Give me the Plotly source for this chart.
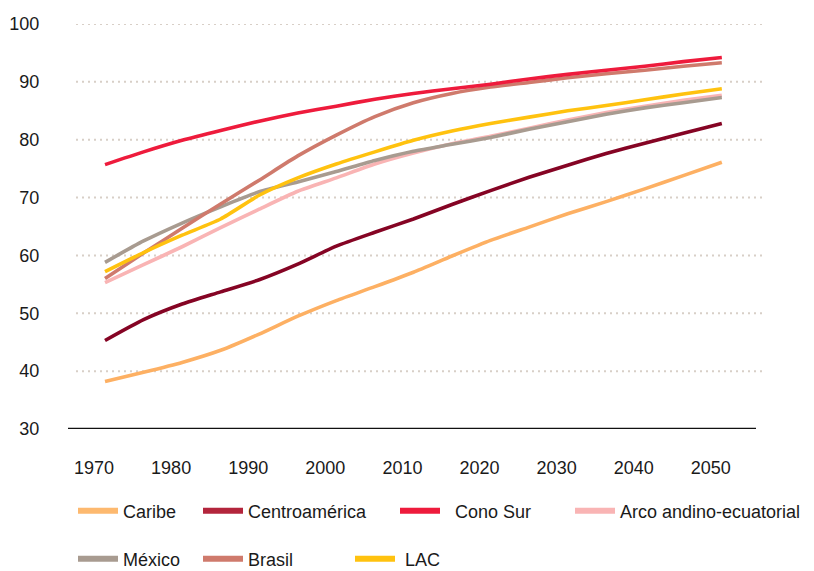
import plotly.graph_objects as go

years = [1970, 1975, 1980, 1985, 1990, 1995, 2000, 2005, 2010, 2015,
         2020, 2025, 2030, 2035, 2040, 2045, 2050]

caribe = [38.2, 39.8, 41.5, 43.6, 46.4, 49.5, 52.2, 54.6, 57.1, 59.9,
          62.6, 64.9, 67.2, 69.3, 71.5, 73.8, 76.1]
centroamerica = [45.3, 48.9, 51.6, 53.7, 55.8, 58.5, 61.6, 64.0, 66.3, 68.8,
                 71.2, 73.5, 75.6, 77.6, 79.4, 81.1, 82.8]
cono_sur = [75.7, 77.9, 79.9, 81.6, 83.2, 84.6, 85.8, 87.0, 88.0, 88.8,
            89.6, 90.5, 91.3, 92.0, 92.7, 93.5, 94.2]
arco = [55.3, 58.4, 61.5, 64.8, 68.0, 71.1, 73.4, 75.8, 77.7, 79.3,
        80.6, 82.0, 83.4, 84.7, 85.8, 86.8, 87.7]
mexico = [58.8, 62.5, 65.6, 68.4, 71.0, 72.7, 74.5, 76.4, 78.0, 79.2,
          80.4, 81.8, 83.1, 84.4, 85.5, 86.4, 87.3]
brasil = [56.0, 60.4, 64.7, 68.9, 73.0, 77.2, 80.8, 84.0, 86.4, 88.0,
          89.1, 89.9, 90.7, 91.4, 92.0, 92.7, 93.3]
lac = [57.2, 60.5, 63.5, 66.3, 70.4, 73.4, 75.8, 77.9, 79.9, 81.5,
       82.8, 83.9, 85.0, 85.9, 86.9, 87.9, 88.8]

series_names = ["Caribe", "Centroamérica", "\u00a0\u00a0Cono Sur", "Arco andino-ecuatorial",
                "México", "Brasil", "\u00a0LAC"]
series_values = [caribe, centroamerica, cono_sur, arco, mexico, brasil, lac]
line_colors = ["#FDB063", "#850424", "#EE1B3C", "#F9B4B4", "#A89B90", "#CF7A6C", "#FFC20F"]
legend_colors = ["#FDB96F", "#B3253C", "#EE1B3C", "#F9B4B4", "#A89B90", "#CF7A6C", "#FFC20F"]

x_ticks = [1970, 1980, 1990, 2000, 2010, 2020, 2030, 2040, 2050]
y_ticks = [30, 40, 50, 60, 70, 80, 90, 100]

FONT = "Liberation Sans, Arial, sans-serif"

fig = go.Figure()

order = [0, 1, 3, 4, 5, 6, 2]
for i in order:
    fig.add_trace(go.Scatter(
        x=years, y=series_values[i], mode="lines", name=series_names[i].strip(),
        line=dict(color=line_colors[i], width=3.6, shape="spline", smoothing=0.6),
        showlegend=False, hoverinfo="x+y+name"))

legend_ids = ["legend", "legend2", "legend3", "legend4", "legend5", "legend6", "legend7"]
for i, name in enumerate(series_names):
    fig.add_trace(go.Scatter(
        x=[None], y=[None], mode="lines", name=name,
        line=dict(color=legend_colors[i], width=6),
        showlegend=True, legend=legend_ids[i]))

W, H = 814, 571
L, R, T, B = 68, 49, 24, 142
pw = W - L - R
ph = H - T - B

def px_x(p):
    return (p - L) / pw

def px_y(p):
    return (H - B - p) / ph

legend_pos = [(78, 511), (203, 511), (400, 511), (575, 511),
              (78, 559), (203, 559), (355, 559)]
legends = {}
for lid, (sx, sy) in zip(legend_ids, legend_pos):
    legends[lid] = dict(
        x=px_x(sx - 5), y=px_y(sy), xanchor="left", yanchor="middle",
        orientation="h", bgcolor="rgba(0,0,0,0)", borderwidth=0,
        itemwidth=40, font=dict(family=FONT, size=18, color="#1a1a1a"),
        tracegroupgap=0, itemclick=False, itemdoubleclick=False)

shapes = []
for v in y_ticks[1:]:
    shapes.append(dict(type="line", xref="paper", yref="y",
                       x0=px_x(76), x1=1.0, y0=v, y1=v,
                       line=dict(color="#D8CFC7", width=2, dash="2px,4px"),
                       layer="below"))
shapes.append(dict(type="line", xref="paper", yref="y",
                   x0=0, x1=px_x(756), y0=30, y1=30,
                   line=dict(color="#111111", width=2.5), layer="above"))

fig.update_layout(
    width=W, height=H,
    margin=dict(l=L, r=R, t=T, b=B, autoexpand=False),
    paper_bgcolor="white", plot_bgcolor="white",
    font=dict(family=FONT, size=18, color="#1a1a1a"),
    shapes=shapes,
    **legends,
)
fig.update_xaxes(
    range=[1965.2, 2055.6], tickvals=x_ticks, ticktext=[str(t) for t in x_ticks],
    showgrid=False, zeroline=False, showline=False,
    ticks="outside", ticklen=22, tickcolor="rgba(0,0,0,0)", ticklabelshift=-11,
    tickfont=dict(family=FONT, size=18, color="#1a1a1a"))
fig.update_yaxes(
    range=[30, 100], tickvals=y_ticks, showgrid=False, zeroline=False, showline=False,
    ticks="outside", ticklen=24, tickcolor="rgba(0,0,0,0)",
    tickfont=dict(family=FONT, size=18, color="#1a1a1a"))

fig.write_html("out.html", config={"displayModeBar": False},
               post_script="document.body.style.margin='0';document.body.style.overflow='hidden';")
